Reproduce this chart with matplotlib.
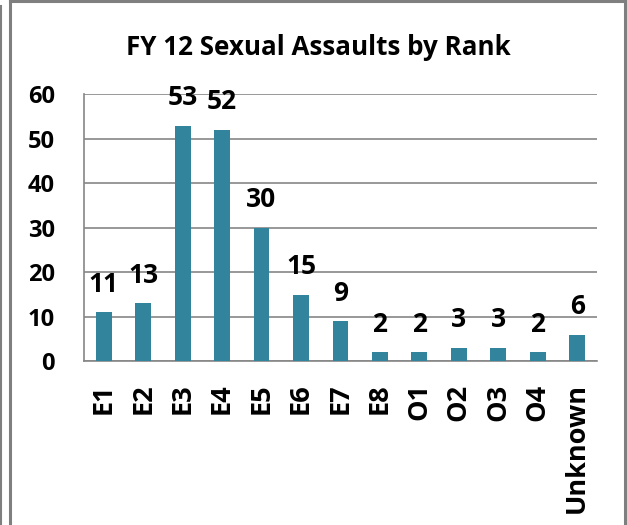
import matplotlib
matplotlib.use("Agg")
import matplotlib.pyplot as plt
from matplotlib.lines import Line2D

ranks = ["E1", "E2", "E3", "E4", "E5", "E6", "E7", "E8",
         "O1", "O2", "O3", "O4", "Unknown"]
counts = [11, 13, 53, 52, 30, 15, 9, 2, 2, 3, 3, 2, 6]
y_ticks = [0, 10, 20, 30, 40, 50, 60]

plt.rcParams["font.family"] = ["Open Sans", "DejaVu Sans"]
plt.rcParams["font.weight"] = "bold"

fig = plt.figure(figsize=(6.27, 5.25), dpi=100)
ax = fig.add_axes([0.134, 0.312, 0.818, 0.508])

bar_color = "#31849B"
grid_color = "#868686"

x = range(len(ranks))
bars = ax.bar(x, counts, width=0.4, color=bar_color, zorder=3)
for b, v in zip(bars, counts):
    ax.text(b.get_x() + b.get_width() / 2, v + 3.3, str(v),
            ha="center", va="bottom", fontsize=19, fontweight="bold")

ax.set_xlim(-0.5, len(ranks) - 0.5)
ax.set_ylim(0, 60)
ax.set_yticks(y_ticks)
ax.set_yticklabels([str(t) for t in y_ticks], fontsize=17, fontweight="bold")
ax.set_xticks(list(x))
ax.set_xticklabels(ranks, rotation=90, fontsize=19.5, fontweight="bold")
ax.tick_params(axis="both", length=0)
ax.tick_params(axis="y", pad=21)
ax.tick_params(axis="x", pad=16)

ax.yaxis.grid(True, color=grid_color, linewidth=1.2, zorder=0)
for s in ["top", "right"]:
    ax.spines[s].set_visible(False)
ax.spines["left"].set_color(grid_color)
ax.spines["bottom"].set_color(grid_color)
ax.spines["left"].set_linewidth(1.2)
ax.spines["bottom"].set_linewidth(1.2)

fig.text(0.507, 0.91, "FY 12 Sexual Assaults by Rank", ha="center",
         va="center", fontsize=18.7, fontweight="bold")

# outer frame lines
frame = "#7f7f7f"
W, H = 627.0, 525.0
fig.add_artist(Line2D([9.5 / W, 9.5 / W], [0, 1], color=frame, lw=2.2))
fig.add_artist(Line2D([9.5 / W, 1], [1 - 1 / H, 1 - 1 / H], color=frame, lw=2.2))
fig.add_artist(Line2D([625 / W, 625 / W], [0, 1], color=frame, lw=2.2))
fig.add_artist(Line2D([0.5 / W, 0.5 / W], [0, 1 - 6 / H], color=frame, lw=1.5))

fig.savefig("out.png", dpi=100)
